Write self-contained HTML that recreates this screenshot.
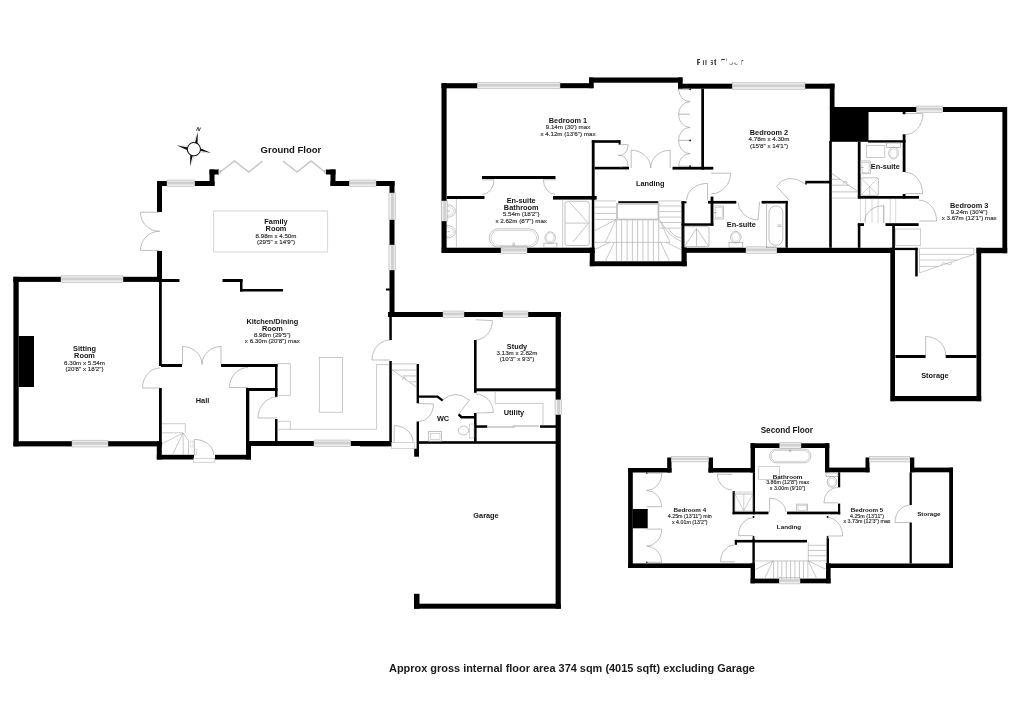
<!DOCTYPE html><html><head><meta charset="utf-8"><title>Floor plan</title><style>html,body{margin:0;padding:0;background:#fff;overflow:hidden;}svg{display:block;filter:grayscale(1);}text{font-family:"Liberation Sans",sans-serif;}</style></head><body><svg width="1024" height="713" viewBox="0 0 1024 713"><rect width="1024" height="713" fill="#fff"/>
<rect x="13.40" y="276.80" width="5.30" height="169.50" fill="#000"/>
<rect x="13.40" y="276.80" width="47.60" height="5.10" fill="#000"/>
<rect x="123.00" y="276.80" width="39.00" height="5.10" fill="#000"/>
<rect x="61.00" y="275.80" width="62.00" height="6.70" fill="#e9e9e9" stroke="#b0b0b0" stroke-width="0.5" rx="0"/>
<rect x="61.30" y="277.60" width="61.40" height="2.70" fill="#cfcfcf"/>
<line x1="61.00" y1="281.00" x2="123.00" y2="281.00" stroke="#f4f4f4" stroke-width="0.6"/>
<rect x="13.40" y="441.20" width="58.60" height="5.20" fill="#000"/>
<rect x="108.00" y="441.20" width="54.00" height="5.20" fill="#000"/>
<rect x="72.00" y="440.20" width="36.00" height="6.80" fill="#e9e9e9" stroke="#b0b0b0" stroke-width="0.5" rx="0"/>
<rect x="72.30" y="442.00" width="35.40" height="2.80" fill="#cfcfcf"/>
<line x1="72.00" y1="445.50" x2="108.00" y2="445.50" stroke="#f4f4f4" stroke-width="0.6"/>
<rect x="18.70" y="336.00" width="15.30" height="51.00" fill="#000"/>
<rect x="159.00" y="282.00" width="2.80" height="84.00" fill="#000"/>
<rect x="159.00" y="388.00" width="2.80" height="53.00" fill="#000"/>
<rect x="157.00" y="181.00" width="5.00" height="31.00" fill="#000"/>
<rect x="157.00" y="251.00" width="5.00" height="31.00" fill="#000"/>
<rect x="157.00" y="181.00" width="10.00" height="5.00" fill="#000"/>
<rect x="194.50" y="181.00" width="20.00" height="5.00" fill="#000"/>
<rect x="167.00" y="180.00" width="27.50" height="6.60" fill="#e9e9e9" stroke="#b0b0b0" stroke-width="0.5" rx="0"/>
<rect x="167.30" y="181.80" width="26.90" height="2.60" fill="#cfcfcf"/>
<line x1="167.00" y1="185.10" x2="194.50" y2="185.10" stroke="#f4f4f4" stroke-width="0.6"/>
<rect x="209.50" y="169.50" width="5.00" height="16.50" fill="#000"/>
<rect x="209.50" y="169.50" width="9.50" height="5.00" fill="#000"/>
<path d="M219.5,172.5 L234.5,161 L248.8,172 L262.5,161" stroke="#c6c6c6" stroke-width="1.5" fill="none"/>
<path d="M283,161 L297,172 L311,161 L325.5,172.5" stroke="#c6c6c6" stroke-width="1.5" fill="none"/>
<rect x="218.60" y="170.60" width="1.60" height="3.00" fill="#ddd" stroke="#999" stroke-width="0.4" rx="0"/>
<rect x="324.80" y="170.60" width="1.60" height="3.00" fill="#ddd" stroke="#999" stroke-width="0.4" rx="0"/>
<rect x="326.00" y="169.50" width="9.50" height="5.00" fill="#000"/>
<rect x="330.50" y="169.50" width="5.00" height="16.50" fill="#000"/>
<rect x="330.50" y="181.00" width="19.00" height="5.00" fill="#000"/>
<rect x="376.00" y="181.00" width="18.50" height="5.00" fill="#000"/>
<rect x="349.50" y="180.00" width="26.50" height="6.60" fill="#e9e9e9" stroke="#b0b0b0" stroke-width="0.5" rx="0"/>
<rect x="349.80" y="181.80" width="25.90" height="2.60" fill="#cfcfcf"/>
<line x1="349.50" y1="185.10" x2="376.00" y2="185.10" stroke="#f4f4f4" stroke-width="0.6"/>
<rect x="389.50" y="181.00" width="5.00" height="12.00" fill="#000"/>
<rect x="389.50" y="219.50" width="5.00" height="25.50" fill="#000"/>
<rect x="389.50" y="270.00" width="5.00" height="47.00" fill="#000"/>
<rect x="388.90" y="193.00" width="6.60" height="26.50" fill="#e9e9e9" stroke="#b0b0b0" stroke-width="0.5" rx="0"/>
<rect x="391.10" y="193.30" width="2.60" height="25.90" fill="#cfcfcf"/>
<line x1="390.40" y1="193.00" x2="390.40" y2="219.50" stroke="#f4f4f4" stroke-width="0.6"/>
<rect x="388.90" y="245.00" width="6.60" height="25.00" fill="#e9e9e9" stroke="#b0b0b0" stroke-width="0.5" rx="0"/>
<rect x="391.10" y="245.30" width="2.60" height="24.40" fill="#cfcfcf"/>
<line x1="390.40" y1="245.00" x2="390.40" y2="270.00" stroke="#f4f4f4" stroke-width="0.6"/>
<rect x="386.00" y="288.50" width="4.00" height="2.00" fill="#000"/>
<path d="M159.60,212.20 L140.40,212.20 A19.20,19.10 0 0 0 159.60,231.30" stroke="#949494" stroke-width="0.6" fill="none"/>
<path d="M159.60,250.40 L140.40,250.40 A19.20,19.10 0 0 1 159.60,231.30" stroke="#949494" stroke-width="0.6" fill="none"/>
<rect x="213.6" y="211" width="113.9" height="41" fill="none" stroke="#dcdcdc" stroke-width="1.2"/>
<rect x="161.00" y="279.00" width="18.50" height="3.00" fill="#000"/>
<rect x="222.50" y="279.00" width="20.00" height="3.00" fill="#000"/>
<rect x="240.00" y="279.00" width="2.50" height="12.50" fill="#000"/>
<rect x="240.00" y="289.00" width="43.00" height="2.50" fill="#000"/>
<rect x="161.00" y="364.00" width="21.00" height="3.00" fill="#000"/>
<rect x="221.00" y="364.00" width="56.50" height="3.00" fill="#000"/>
<rect x="275.00" y="364.00" width="2.50" height="33.00" fill="#000"/>
<rect x="275.00" y="419.00" width="2.50" height="22.00" fill="#000"/>
<rect x="246.00" y="388.00" width="31.50" height="3.00" fill="#000"/>
<rect x="246.00" y="388.00" width="3.30" height="53.00" fill="#000"/>
<rect x="246.00" y="441.00" width="5.00" height="18.50" fill="#000"/>
<rect x="156.80" y="441.40" width="5.00" height="18.10" fill="#000"/>
<rect x="156.80" y="454.80" width="37.20" height="4.70" fill="#000"/>
<rect x="215.00" y="454.80" width="36.00" height="4.70" fill="#000"/>
<rect x="246.00" y="441.00" width="68.00" height="5.00" fill="#000"/>
<rect x="350.50" y="441.00" width="41.00" height="5.00" fill="#000"/>
<rect x="314.00" y="440.00" width="36.50" height="6.60" fill="#e9e9e9" stroke="#b0b0b0" stroke-width="0.5" rx="0"/>
<rect x="314.30" y="441.80" width="35.90" height="2.60" fill="#cfcfcf"/>
<line x1="314.00" y1="445.10" x2="350.50" y2="445.10" stroke="#f4f4f4" stroke-width="0.6"/>
<rect x="389.30" y="317.00" width="2.50" height="23.00" fill="#000"/>
<rect x="389.30" y="361.00" width="2.50" height="85.00" fill="#000"/>
<path d="M160.00,388.00 L142.50,388.00 A17.50,20.00 0 0 1 160.00,368.00" stroke="#949494" stroke-width="0.6" fill="none"/>
<path d="M182.50,364.50 L182.50,346.50 A19.50,18.00 0 0 1 202.00,364.50" stroke="#949494" stroke-width="0.6" fill="none"/>
<path d="M221.00,364.50 L221.00,346.50 A19.00,18.00 0 0 0 202.00,364.50" stroke="#949494" stroke-width="0.6" fill="none"/>
<path d="M248.00,387.50 L229.50,387.50 A18.50,20.00 0 0 1 248.00,367.50" stroke="#949494" stroke-width="0.6" fill="none"/>
<path d="M277.00,418.00 L258.00,418.00 A19.00,21.00 0 0 1 277.00,397.00" stroke="#949494" stroke-width="0.6" fill="none"/>
<path d="M390.00,360.00 L372.00,360.00 A18.00,20.00 0 0 1 390.00,340.00" stroke="#949494" stroke-width="0.6" fill="none"/>
<path d="M194.30,455.00 L194.30,439.40 A19.50,15.60 0 0 1 213.80,455.00" stroke="#949494" stroke-width="0.6" fill="none"/>
<rect x="193.60" y="458.20" width="21.20" height="4.00" fill="#fff" stroke="#aaa" stroke-width="0.5" rx="0"/>
<rect x="194.60" y="449.50" width="2.00" height="5.50" fill="none" stroke="#aaa" stroke-width="0.4" rx="0"/>
<rect x="190.50" y="441.00" width="2.50" height="6.00" fill="none" stroke="#bbb" stroke-width="0.4" rx="0"/>
<path d="M161.8,423.7 H185.3 V432.8 M161.8,432.8 H183 M183,433 L161.8,443.8 M183,433 L172.4,455 M183,433 L183.4,455 M183,433 L188.5,440.6 V455" stroke="#a8a8a8" stroke-width="0.6" fill="none"/>
<path d="M277.5,363.6 H290.3 V395.4 H277.5" stroke="#bcbcbc" stroke-width="0.8" fill="none"/>
<rect x="319.30" y="357.40" width="23.30" height="54.80" fill="none" stroke="#bcbcbc" stroke-width="0.8" rx="0"/>
<path d="M277.5,421.3 H290.3 V429.3 M277.5,429.3 H376.6 V364.6 H389.2" stroke="#bcbcbc" stroke-width="0.8" fill="none"/>
<rect x="388.00" y="312.00" width="6.00" height="5.00" fill="#000"/>
<rect x="388.00" y="312.00" width="55.00" height="5.00" fill="#000"/>
<rect x="464.00" y="312.00" width="39.00" height="5.00" fill="#000"/>
<rect x="528.00" y="312.00" width="33.00" height="5.00" fill="#000"/>
<rect x="443.00" y="311.00" width="21.00" height="6.60" fill="#e9e9e9" stroke="#b0b0b0" stroke-width="0.5" rx="0"/>
<rect x="443.30" y="312.80" width="20.40" height="2.60" fill="#cfcfcf"/>
<line x1="443.00" y1="316.10" x2="464.00" y2="316.10" stroke="#f4f4f4" stroke-width="0.6"/>
<rect x="503.00" y="311.00" width="25.00" height="6.60" fill="#e9e9e9" stroke="#b0b0b0" stroke-width="0.5" rx="0"/>
<rect x="503.30" y="312.80" width="24.40" height="2.60" fill="#cfcfcf"/>
<line x1="503.00" y1="316.10" x2="528.00" y2="316.10" stroke="#f4f4f4" stroke-width="0.6"/>
<rect x="555.60" y="312.00" width="5.20" height="87.90" fill="#000"/>
<rect x="555.60" y="414.40" width="5.20" height="194.30" fill="#000"/>
<rect x="555.00" y="399.90" width="6.80" height="14.50" fill="#e9e9e9" stroke="#b0b0b0" stroke-width="0.5" rx="0"/>
<rect x="557.20" y="400.20" width="2.80" height="13.90" fill="#cfcfcf"/>
<line x1="556.50" y1="399.90" x2="556.50" y2="414.40" stroke="#f4f4f4" stroke-width="0.6"/>
<rect x="474.00" y="340.00" width="2.60" height="52.80" fill="#000"/>
<rect x="474.00" y="413.00" width="2.60" height="30.00" fill="#000"/>
<rect x="474.00" y="388.30" width="82.00" height="3.00" fill="#000"/>
<rect x="476.00" y="425.30" width="11.30" height="2.50" fill="#000"/>
<rect x="540.00" y="425.30" width="16.00" height="2.50" fill="#000"/>
<path d="M487.7,427 H515 M512.4,426 H539.3" stroke="#c4c4c4" stroke-width="1.3" fill="none"/>
<rect x="419.00" y="441.20" width="137.00" height="2.60" fill="#000"/>
<rect x="416.60" y="364.00" width="2.40" height="39.30" fill="#000"/>
<rect x="416.60" y="421.50" width="2.40" height="27.50" fill="#000"/>
<rect x="414.20" y="448.70" width="4.80" height="8.00" fill="#000"/>
<path d="M419,396.6 H437.4 L442.8,400.6" stroke="#000" stroke-width="2.4" fill="none"/>
<path d="M458.6,414.3 L461.5,417.2 H474" stroke="#000" stroke-width="2.4" fill="none"/>
<rect x="360.00" y="441.50" width="31.60" height="4.90" fill="#000"/>
<path d="M475.60,319.80 L492.50,320.60 A16.90,20.20 0 0 1 475.60,340.00" stroke="#949494" stroke-width="0.6" fill="none"/>
<path d="M419.00,403.50 L433.50,404.00 A14.50,18.00 0 0 1 419.00,421.50" stroke="#949494" stroke-width="0.6" fill="none"/>
<path d="M442.5,400 Q455,389 469.5,400 L458.6,414" stroke="#949494" stroke-width="0.6" fill="none"/>
<path d="M475.60,413.00 L493.40,412.50 A17.80,19.00 0 0 0 475.60,394.00" stroke="#949494" stroke-width="0.6" fill="none"/>
<path d="M394.20,442.50 L394.20,425.60 A19.00,16.90 0 0 1 413.20,442.50" stroke="#949494" stroke-width="0.6" fill="none"/>
<rect x="391.60" y="442.70" width="22.60" height="5.80" fill="#fff" stroke="#aaa" stroke-width="0.5" rx="0"/>
<path d="M391.8,363.9 H416.6 M391.8,370.1 H416.6 M391.8,369.6 L416.6,387.2 M402.5,375.9 H416.6 M410,381.8 H416.6 M402.3,379.8 L403.8,377 L406.6,379" stroke="#b4b4b4" stroke-width="0.8" fill="none"/>
<path d="M495.2,391.3 V403.4 H543 V425.3" stroke="#bcbcbc" stroke-width="0.8" fill="none"/>
<rect x="428.60" y="431.70" width="13.10" height="9.50" fill="none" stroke="#999" stroke-width="0.6" rx="0"/>
<rect x="430.30" y="433.30" width="9.70" height="6.20" fill="none" stroke="#aaa" stroke-width="0.5" rx="0"/>
<ellipse cx="463.50" cy="430.50" rx="5.20" ry="4.40" fill="none" stroke="#999" stroke-width="0.6"/>
<rect x="469.50" y="424.00" width="4.50" height="14.00" fill="none" stroke="#aaa" stroke-width="0.5" rx="0"/>
<rect x="414.00" y="593.80" width="5.50" height="14.90" fill="#000"/>
<rect x="414.00" y="603.70" width="146.80" height="5.00" fill="#000"/>
<rect x="441.50" y="83.20" width="5.10" height="169.80" fill="#000"/>
<rect x="441.50" y="83.20" width="36.00" height="5.10" fill="#000"/>
<rect x="560.00" y="83.20" width="33.50" height="5.00" fill="#000"/>
<rect x="477.50" y="82.20" width="82.50" height="6.60" fill="#e9e9e9" stroke="#b0b0b0" stroke-width="0.5" rx="0"/>
<rect x="477.80" y="84.00" width="81.90" height="2.60" fill="#cfcfcf"/>
<line x1="477.50" y1="87.30" x2="560.00" y2="87.30" stroke="#f4f4f4" stroke-width="0.6"/>
<rect x="589.00" y="77.50" width="4.50" height="10.70" fill="#000"/>
<rect x="589.00" y="77.50" width="93.50" height="5.20" fill="#000"/>
<rect x="678.00" y="77.50" width="4.50" height="11.20" fill="#000"/>
<rect x="678.00" y="83.70" width="54.50" height="5.00" fill="#000"/>
<rect x="805.00" y="83.70" width="29.50" height="5.00" fill="#000"/>
<rect x="732.50" y="82.70" width="72.50" height="6.60" fill="#e9e9e9" stroke="#b0b0b0" stroke-width="0.5" rx="0"/>
<rect x="732.80" y="84.50" width="71.90" height="2.60" fill="#cfcfcf"/>
<line x1="732.50" y1="87.80" x2="805.00" y2="87.80" stroke="#f4f4f4" stroke-width="0.6"/>
<rect x="829.80" y="83.70" width="4.70" height="24.30" fill="#000"/>
<rect x="829.80" y="107.00" width="38.70" height="34.80" fill="#000"/>
<rect x="834.00" y="107.00" width="82.60" height="5.00" fill="#000"/>
<rect x="942.70" y="107.00" width="64.30" height="5.00" fill="#000"/>
<rect x="916.60" y="106.00" width="26.10" height="6.60" fill="#e9e9e9" stroke="#b0b0b0" stroke-width="0.5" rx="0"/>
<rect x="916.90" y="107.80" width="25.50" height="2.60" fill="#cfcfcf"/>
<line x1="916.60" y1="111.10" x2="942.70" y2="111.10" stroke="#f4f4f4" stroke-width="0.6"/>
<rect x="1002.40" y="107.00" width="4.80" height="146.20" fill="#000"/>
<rect x="976.50" y="247.80" width="30.70" height="5.40" fill="#000"/>
<rect x="441.80" y="247.70" width="59.20" height="5.30" fill="#000"/>
<rect x="527.00" y="247.70" width="67.60" height="5.30" fill="#000"/>
<rect x="501.00" y="246.70" width="26.00" height="6.90" fill="#e9e9e9" stroke="#b0b0b0" stroke-width="0.5" rx="0"/>
<rect x="501.30" y="248.50" width="25.40" height="2.90" fill="#cfcfcf"/>
<line x1="501.00" y1="252.10" x2="527.00" y2="252.10" stroke="#f4f4f4" stroke-width="0.6"/>
<rect x="441.20" y="201.00" width="6.60" height="20.00" fill="#e9e9e9" stroke="#b0b0b0" stroke-width="0.5" rx="0"/>
<rect x="443.40" y="201.30" width="2.60" height="19.40" fill="#cfcfcf"/>
<line x1="442.70" y1="201.00" x2="442.70" y2="221.00" stroke="#f4f4f4" stroke-width="0.6"/>
<rect x="589.80" y="247.70" width="4.80" height="18.50" fill="#000"/>
<rect x="589.80" y="261.30" width="96.90" height="4.90" fill="#000"/>
<rect x="681.50" y="201.30" width="3.00" height="46.70" fill="#000"/>
<rect x="681.50" y="247.50" width="5.20" height="18.70" fill="#000"/>
<rect x="681.50" y="201.30" width="5.00" height="2.00" fill="#000"/>
<rect x="684.00" y="247.80" width="62.00" height="5.00" fill="#000"/>
<rect x="776.60" y="247.80" width="118.40" height="5.20" fill="#000"/>
<rect x="746.00" y="246.80" width="30.60" height="6.60" fill="#e9e9e9" stroke="#b0b0b0" stroke-width="0.5" rx="0"/>
<rect x="746.30" y="248.60" width="30.00" height="2.60" fill="#cfcfcf"/>
<line x1="746.00" y1="251.90" x2="776.60" y2="251.90" stroke="#f4f4f4" stroke-width="0.6"/>
<rect x="482.00" y="176.00" width="73.50" height="3.00" fill="#000"/>
<rect x="446.80" y="196.00" width="37.70" height="3.00" fill="#000"/>
<rect x="553.00" y="196.00" width="43.70" height="3.60" fill="#000"/>
<rect x="591.80" y="140.20" width="2.80" height="59.80" fill="#000"/>
<rect x="591.80" y="140.20" width="28.40" height="2.60" fill="#000"/>
<rect x="618.60" y="140.20" width="2.00" height="4.40" fill="#000"/>
<rect x="594.60" y="166.80" width="34.40" height="2.60" fill="#000"/>
<rect x="672.50" y="166.80" width="40.80" height="2.80" fill="#000"/>
<rect x="618.30" y="201.20" width="40.00" height="2.60" fill="#000"/>
<rect x="701.30" y="88.70" width="2.70" height="80.90" fill="#000"/>
<rect x="710.60" y="196.60" width="2.80" height="29.00" fill="#000"/>
<rect x="708.00" y="200.90" width="28.30" height="2.70" fill="#000"/>
<rect x="761.60" y="200.90" width="26.20" height="2.70" fill="#000"/>
<rect x="785.30" y="200.90" width="2.50" height="46.90" fill="#000"/>
<rect x="681.50" y="223.30" width="31.90" height="2.50" fill="#000"/>
<rect x="805.30" y="180.80" width="24.70" height="2.60" fill="#000"/>
<rect x="805.30" y="183.00" width="1.30" height="1.60" fill="#000"/>
<rect x="829.20" y="141.00" width="2.60" height="106.80" fill="#000"/>
<rect x="857.80" y="141.60" width="2.80" height="56.80" fill="#000"/>
<rect x="868.00" y="140.20" width="37.50" height="2.40" fill="#000"/>
<rect x="902.70" y="112.00" width="2.80" height="2.20" fill="#000"/>
<rect x="902.70" y="134.30" width="2.80" height="37.70" fill="#000"/>
<rect x="902.70" y="194.00" width="2.80" height="4.60" fill="#000"/>
<rect x="857.80" y="196.00" width="61.20" height="2.70" fill="#000"/>
<rect x="857.80" y="223.60" width="2.60" height="24.20" fill="#000"/>
<rect x="857.80" y="223.20" width="6.20" height="2.80" fill="#000"/>
<rect x="885.50" y="223.20" width="33.10" height="2.80" fill="#000"/>
<rect x="892.20" y="225.50" width="2.70" height="22.50" fill="#000"/>
<rect x="890.30" y="247.80" width="4.70" height="153.40" fill="#000"/>
<rect x="976.50" y="247.80" width="4.70" height="153.40" fill="#000"/>
<rect x="890.80" y="396.00" width="90.40" height="5.20" fill="#000"/>
<rect x="895.40" y="355.00" width="30.20" height="3.00" fill="#000"/>
<rect x="945.70" y="355.00" width="30.80" height="3.00" fill="#000"/>
<rect x="915.20" y="247.80" width="2.50" height="28.60" fill="#000"/>
<path d="M925.60,355.00 L925.60,336.50 A20.10,18.50 0 0 1 945.70,355.00" stroke="#949494" stroke-width="0.6" fill="none"/>
<rect x="895.40" y="229.00" width="25.20" height="16.50" fill="none" stroke="#c4c4c4" stroke-width="0.8" rx="0"/>
<path d="M482.00,179.80 L494.00,179.80 A12.00,14.60 0 0 1 482.20,194.40" stroke="#949494" stroke-width="0.6" fill="none"/>
<path d="M555.60,179.80 L543.40,179.80 A12.20,14.60 0 0 0 555.30,194.40" stroke="#949494" stroke-width="0.6" fill="none"/>
<path d="M619.60,144.20 L628.20,144.80 A8.60,11.20 0 0 1 618.20,155.40" stroke="#949494" stroke-width="0.6" fill="none"/>
<path d="M619.60,167.00 L628.20,166.40 A8.60,11.60 0 0 0 618.20,155.40" stroke="#949494" stroke-width="0.6" fill="none"/>
<path d="M631.20,168.00 L631.20,150.20 A19.50,17.80 0 0 1 650.70,168.00" stroke="#949494" stroke-width="0.6" fill="none"/>
<path d="M670.20,168.00 L670.20,150.20 A19.50,17.80 0 0 0 650.70,168.00" stroke="#949494" stroke-width="0.6" fill="none"/>
<line x1="678.60" y1="89.30" x2="690.10" y2="89.30" stroke="#b8b8b8" stroke-width="1.0"/>
<line x1="678.60" y1="114.20" x2="690.10" y2="114.20" stroke="#b8b8b8" stroke-width="1.0"/>
<line x1="678.60" y1="140.40" x2="690.10" y2="140.40" stroke="#b8b8b8" stroke-width="1.0"/>
<line x1="678.60" y1="166.20" x2="690.10" y2="166.20" stroke="#b8b8b8" stroke-width="1.0"/>
<path d="M678.6,89.3 A11.6,12.6 0 0 0 690.1,101.7" stroke="#949494" stroke-width="0.6" fill="none"/>
<path d="M678.6,114.2 A11.6,12.6 0 0 1 690.1,101.7" stroke="#949494" stroke-width="0.6" fill="none"/>
<path d="M678.6,114.2 A11.6,12.6 0 0 0 690.1,127.4" stroke="#949494" stroke-width="0.6" fill="none"/>
<path d="M678.6,140.4 A11.6,12.6 0 0 1 690.1,127.4" stroke="#949494" stroke-width="0.6" fill="none"/>
<path d="M678.6,140.4 A11.6,12.6 0 0 0 690.1,153.6" stroke="#949494" stroke-width="0.6" fill="none"/>
<path d="M678.6,166.2 A11.6,12.6 0 0 1 690.1,153.6" stroke="#949494" stroke-width="0.6" fill="none"/>
<circle cx="690.1" cy="89.3" r="0.9" fill="#111"/>
<circle cx="690.1" cy="140.4" r="0.9" fill="#111"/>
<circle cx="690.1" cy="166.2" r="0.9" fill="#111"/>
<path d="M711.00,173.20 L730.60,173.20 A19.60,20.60 0 0 1 711.30,193.80" stroke="#949494" stroke-width="0.6" fill="none"/>
<path d="M707.60,200.40 L707.40,183.40 A21.00,17.00 0 0 0 686.60,200.30" stroke="#949494" stroke-width="0.6" fill="none"/>
<path d="M759.50,202.00 L758.00,220.00 A21.50,18.00 0 0 1 738.00,202.30" stroke="#949494" stroke-width="0.6" fill="none"/>
<path d="M789.5,200.6 L776.5,186.2 Q787,172 805,183.5" stroke="#949494" stroke-width="0.6" fill="none"/>
<path d="M905.50,113.60 L922.90,113.60 A17.40,21.00 0 0 1 905.20,134.60" stroke="#949494" stroke-width="0.6" fill="none"/>
<path d="M905.50,193.60 L922.60,193.60 A17.10,21.20 0 0 0 905.20,172.40" stroke="#949494" stroke-width="0.6" fill="none"/>
<path d="M919.20,221.00 L936.60,221.00 A17.40,20.80 0 0 0 919.20,200.20" stroke="#949494" stroke-width="0.6" fill="none"/>
<line x1="456.40" y1="199.00" x2="456.40" y2="247.70" stroke="#a8a8a8" stroke-width="0.6"/>
<path d="M447,204.7 A8.4,6.3 0 0 1 447,217.3" stroke="#999" stroke-width="0.6" fill="none"/>
<path d="M447,206.4 A6.4,4.6 0 0 1 447,215.6" stroke="#b5b5b5" stroke-width="0.5" fill="none"/>
<line x1="447.50" y1="211.00" x2="450.00" y2="211.00" stroke="#888" stroke-width="0.6"/>
<path d="M447,225.39999999999998 A8.4,6.3 0 0 1 447,238.0" stroke="#999" stroke-width="0.6" fill="none"/>
<path d="M447,227.1 A6.4,4.6 0 0 1 447,236.29999999999998" stroke="#b5b5b5" stroke-width="0.5" fill="none"/>
<line x1="447.50" y1="231.70" x2="450.00" y2="231.70" stroke="#888" stroke-width="0.6"/>
<rect x="489.20" y="228.80" width="49.20" height="18.20" fill="none" stroke="#999" stroke-width="0.6" rx="9"/>
<rect x="491.00" y="230.40" width="45.60" height="15.00" fill="none" stroke="#aaa" stroke-width="0.5" rx="7.5"/>
<line x1="513.00" y1="242.50" x2="513.00" y2="246.00" stroke="#888" stroke-width="0.5"/>
<line x1="514.30" y1="242.50" x2="514.30" y2="246.00" stroke="#888" stroke-width="0.5"/>
<rect x="543.90" y="243.10" width="13.00" height="4.40" fill="none" stroke="#999" stroke-width="0.6" rx="0"/>
<ellipse cx="550.20" cy="237.60" rx="5.20" ry="5.80" fill="none" stroke="#999" stroke-width="0.6"/>
<ellipse cx="550.20" cy="237.20" rx="3.90" ry="4.40" fill="none" stroke="#b5b5b5" stroke-width="0.5"/>
<line x1="562.70" y1="199.50" x2="562.70" y2="247.50" stroke="#a8a8a8" stroke-width="0.6"/>
<rect x="565.00" y="201.30" width="24.20" height="44.20" fill="none" stroke="#999" stroke-width="0.6" rx="2.5"/>
<path d="M565,223.1 H589.2 M569.7,202.5 L587.7,222.4 M587.7,223.8 L572.8,242.3" stroke="#a0a0a0" stroke-width="0.6" fill="none"/>
<rect x="713.80" y="206.00" width="9.70" height="13.00" fill="none" stroke="#999" stroke-width="0.6" rx="0"/>
<rect x="715.20" y="207.40" width="7.00" height="10.10" fill="none" stroke="#b0b0b0" stroke-width="0.5" rx="0"/>
<line x1="714.00" y1="212.50" x2="716.50" y2="212.50" stroke="#888" stroke-width="0.6"/>
<rect x="684.30" y="226.60" width="24.70" height="20.00" fill="none" stroke="#999" stroke-width="0.6" rx="1.5"/>
<path d="M684.5,246.4 L696.5,228.5 L708.8,246.4 M696.5,228.5 V246.4" stroke="#a0a0a0" stroke-width="0.6" fill="none"/>
<rect x="729.00" y="242.50" width="13.80" height="5.20" fill="none" stroke="#999" stroke-width="0.6" rx="0"/>
<ellipse cx="735.80" cy="237.20" rx="5.20" ry="5.80" fill="none" stroke="#999" stroke-width="0.6"/>
<ellipse cx="735.80" cy="236.80" rx="3.90" ry="4.40" fill="none" stroke="#b5b5b5" stroke-width="0.5"/>
<rect x="766.30" y="203.60" width="19.00" height="44.10" fill="none" stroke="#999" stroke-width="0.6" rx="0"/>
<rect x="769.00" y="206.00" width="13.80" height="39.30" fill="none" stroke="#999" stroke-width="0.6" rx="6.5"/>
<line x1="777.50" y1="225.00" x2="781.50" y2="225.00" stroke="#888" stroke-width="0.5"/>
<line x1="777.50" y1="226.40" x2="781.50" y2="226.40" stroke="#888" stroke-width="0.5"/>
<rect x="866.50" y="145.50" width="18.30" height="11.90" fill="none" stroke="#aaa" stroke-width="0.6" rx="0"/>
<rect x="886.60" y="143.00" width="13.70" height="4.30" fill="none" stroke="#999" stroke-width="0.6" rx="0"/>
<ellipse cx="893.50" cy="153.00" rx="4.80" ry="6.00" fill="none" stroke="#999" stroke-width="0.6"/>
<ellipse cx="893.50" cy="153.40" rx="3.50" ry="4.50" fill="none" stroke="#b5b5b5" stroke-width="0.5"/>
<rect x="860.60" y="161.00" width="9.60" height="12.80" fill="none" stroke="#999" stroke-width="0.6" rx="0"/>
<rect x="862.00" y="162.40" width="7.00" height="10.00" fill="none" stroke="#b0b0b0" stroke-width="0.5" rx="0"/>
<line x1="861.00" y1="167.40" x2="863.60" y2="167.40" stroke="#888" stroke-width="0.6"/>
<rect x="861.00" y="177.80" width="17.40" height="17.50" fill="none" stroke="#999" stroke-width="0.6" rx="1.2"/>
<path d="M861.2,178 L869.7,186.5 L878.2,178 M869.7,186.5 V195 M861.2,195 L869.7,186.5 L878.2,195" stroke="#a0a0a0" stroke-width="0.5" fill="none"/>
<rect x="591.80" y="199.00" width="2.50" height="62.50" fill="#000"/>
<path d="M616.4,220 V261.4 M621.6,220 V261.4 M627.1,220 V261.4 M632.4,220 V261.4 M637.6,220 V261.4 M642.9,220 V261.4 M648.1,220 V261.4 M653.4,220 V261.4 M658.7,220 V261.4 M594.3,242.3 H670 M594.3,200.9 H616 M594.3,207.1 H616 M594.3,213.4 H616 M594.3,219.4 H616 M659.5,200.9 H681.4 M659.5,206 H681.4 M659.5,211.6 H681.4 M659.5,217.1 H681.4 M659.5,222.5 H681.4 M659.5,228.1 H681.4 M616,219.7 L594.3,230.8 M616,219.7 L605.4,242.3 M610,242.3 L594.3,249.7 M614.3,242.3 L605.4,261.3 M659.5,219.7 L670,242.3 M660.6,242.3 L669.5,261.3 M666.3,242.3 L681.2,249.7 M661.6,222.3 Q668,236 681.2,241.3 M668.5,228.1 Q672,236 681.2,238" stroke="#a3a3a3" stroke-width="0.6" fill="none"/>
<rect x="617.00" y="203.80" width="41.50" height="15.70" fill="none" stroke="#c2c2c2" stroke-width="1.8" rx="0"/>
<path d="M831.8,191.9 H858 M831.8,173.4 L858,191.6 M831.8,179.3 H840.3 M831.8,185.2 H848.8 M843.3,183.8 L845,181 L847.6,182.6" stroke="#b0b0b0" stroke-width="0.8" fill="none"/>
<line x1="831.80" y1="198.10" x2="858.00" y2="198.10" stroke="#c8c8c8" stroke-width="0.9"/>
<path d="M865.6,199 V223.2 M872,199 V223.2 M878,199 V223.2 M890.2,199 V223.2 M895.7,199 V223.2" stroke="#b5b5b5" stroke-width="0.55" fill="none"/>
<line x1="883.80" y1="205.70" x2="883.80" y2="223.20" stroke="#8a8a8a" stroke-width="0.8"/>
<path d="M864.7,221.4 A19.1,15.7 0 0 1 883.8,205.7" stroke="#999" stroke-width="0.6" fill="none"/>
<line x1="860.40" y1="199.00" x2="860.40" y2="223.20" stroke="#b5b5b5" stroke-width="0.5"/>
<path d="M919.5,248.3 H973.9 V254.4 L919.5,272.8 Z M919.5,254.4 H973.9 M919.5,260 H957.3 M919.5,266.4 H938.4 M941,265.5 L943,262.5 L950.5,265 L952,262" stroke="#a3a3a3" stroke-width="0.55" fill="none"/>
<rect x="894.90" y="247.80" width="22.80" height="2.30" fill="#000"/>
<rect x="628.10" y="468.00" width="4.70" height="100.00" fill="#000"/>
<rect x="628.10" y="468.00" width="43.40" height="4.50" fill="#000"/>
<rect x="667.20" y="457.50" width="4.30" height="15.00" fill="#000"/>
<rect x="708.50" y="457.50" width="4.50" height="15.00" fill="#000"/>
<rect x="708.50" y="468.00" width="46.50" height="4.50" fill="#000"/>
<rect x="671.50" y="456.30" width="37.00" height="5.60" fill="#e9e9e9" stroke="#b0b0b0" stroke-width="0.5" rx="0"/>
<rect x="671.80" y="458.10" width="36.40" height="1.60" fill="#cfcfcf"/>
<line x1="671.50" y1="460.40" x2="708.50" y2="460.40" stroke="#f4f4f4" stroke-width="0.6"/>
<rect x="750.60" y="443.30" width="4.40" height="29.20" fill="#000"/>
<rect x="750.60" y="443.30" width="29.20" height="4.70" fill="#000"/>
<rect x="801.00" y="443.30" width="28.30" height="4.70" fill="#000"/>
<rect x="779.80" y="442.30" width="21.20" height="6.30" fill="#e9e9e9" stroke="#b0b0b0" stroke-width="0.5" rx="0"/>
<rect x="780.10" y="444.10" width="20.60" height="2.30" fill="#cfcfcf"/>
<line x1="779.80" y1="447.10" x2="801.00" y2="447.10" stroke="#f4f4f4" stroke-width="0.6"/>
<rect x="825.00" y="443.30" width="4.30" height="29.00" fill="#000"/>
<rect x="825.00" y="467.60" width="44.50" height="4.70" fill="#000"/>
<rect x="865.50" y="457.50" width="4.00" height="14.80" fill="#000"/>
<rect x="869.50" y="456.30" width="40.50" height="5.60" fill="#e9e9e9" stroke="#b0b0b0" stroke-width="0.5" rx="0"/>
<rect x="869.80" y="458.10" width="39.90" height="1.60" fill="#cfcfcf"/>
<line x1="869.50" y1="460.40" x2="910.00" y2="460.40" stroke="#f4f4f4" stroke-width="0.6"/>
<rect x="910.00" y="457.50" width="4.30" height="14.80" fill="#000"/>
<rect x="910.00" y="467.60" width="43.00" height="4.70" fill="#000"/>
<rect x="949.20" y="467.60" width="3.80" height="100.40" fill="#000"/>
<rect x="628.10" y="563.40" width="126.90" height="4.60" fill="#000"/>
<rect x="750.60" y="563.30" width="4.40" height="20.00" fill="#000"/>
<rect x="750.60" y="578.60" width="28.70" height="4.70" fill="#000"/>
<rect x="800.00" y="578.60" width="30.60" height="4.70" fill="#000"/>
<rect x="779.30" y="577.60" width="20.70" height="6.30" fill="#e9e9e9" stroke="#b0b0b0" stroke-width="0.5" rx="0"/>
<rect x="779.60" y="579.40" width="20.10" height="2.30" fill="#cfcfcf"/>
<line x1="779.30" y1="582.40" x2="800.00" y2="582.40" stroke="#f4f4f4" stroke-width="0.6"/>
<rect x="826.00" y="563.30" width="4.60" height="20.00" fill="#000"/>
<rect x="826.00" y="563.50" width="127.00" height="4.50" fill="#000"/>
<rect x="632.70" y="509.00" width="15.00" height="19.30" fill="#000"/>
<rect x="752.80" y="472.50" width="2.20" height="41.80" fill="#000"/>
<rect x="732.60" y="491.00" width="2.20" height="23.30" fill="#000"/>
<rect x="732.60" y="511.60" width="35.90" height="2.70" fill="#000"/>
<rect x="787.00" y="511.60" width="53.20" height="2.70" fill="#000"/>
<rect x="838.00" y="472.30" width="2.20" height="15.00" fill="#000"/>
<rect x="838.00" y="503.60" width="2.20" height="10.70" fill="#000"/>
<rect x="734.80" y="539.90" width="72.20" height="2.60" fill="#000"/>
<rect x="734.80" y="539.90" width="2.20" height="4.90" fill="#000"/>
<rect x="752.40" y="538.20" width="2.40" height="25.30" fill="#000"/>
<rect x="826.60" y="538.20" width="2.40" height="25.30" fill="#000"/>
<rect x="752.70" y="516.00" width="1.60" height="2.00" fill="#000"/>
<rect x="752.70" y="536.00" width="1.60" height="2.00" fill="#000"/>
<rect x="826.80" y="516.00" width="1.60" height="2.00" fill="#000"/>
<rect x="826.80" y="536.00" width="1.60" height="2.00" fill="#000"/>
<rect x="909.60" y="472.30" width="2.20" height="32.70" fill="#000"/>
<rect x="909.60" y="522.50" width="2.20" height="41.00" fill="#000"/>
<path d="M732.30,474.30 L717.30,474.30 A15.00,15.70 0 0 0 732.30,490.00" stroke="#949494" stroke-width="0.6" fill="none"/>
<path d="M753.30,535.60 L738.50,535.60 A14.80,18.00 0 0 1 753.30,517.60" stroke="#949494" stroke-width="0.6" fill="none"/>
<path d="M734.80,561.80 L720.50,561.80 A14.30,17.00 0 0 1 734.80,544.80" stroke="#949494" stroke-width="0.6" fill="none"/>
<path d="M769.60,512.40 L769.60,498.00 A16.40,14.40 0 0 1 786.00,512.40" stroke="#949494" stroke-width="0.6" fill="none"/>
<path d="M838.00,502.80 L823.90,502.80 A14.10,15.50 0 0 1 838.00,487.30" stroke="#949494" stroke-width="0.6" fill="none"/>
<path d="M827.40,536.00 L842.60,536.00 A15.20,18.40 0 0 0 827.40,517.60" stroke="#949494" stroke-width="0.6" fill="none"/>
<path d="M909.80,522.50 L895.00,522.50 A14.80,17.50 0 0 1 909.80,505.00" stroke="#949494" stroke-width="0.6" fill="none"/>
<path d="M646.6,473.1 H661.7 A15.1,17.4 0 0 1 646.6,490.5" stroke="#949494" stroke-width="0.6" fill="none"/>
<path d="M646.6,506.7 H661.7 A15.1,16.2 0 0 0 646.6,490.5" stroke="#949494" stroke-width="0.6" fill="none"/>
<path d="M646.6,529.1 H661.7 A15.1,17.0 0 0 1 646.6,546.1" stroke="#949494" stroke-width="0.6" fill="none"/>
<path d="M646.6,562.3 H661.7 A15.1,16.2 0 0 0 646.6,546.1" stroke="#949494" stroke-width="0.6" fill="none"/>
<circle cx="646.8" cy="473.1" r="0.8" fill="#222"/>
<circle cx="646.8" cy="562.3" r="0.8" fill="#222"/>
<rect x="769.60" y="449.10" width="41.30" height="13.70" fill="none" stroke="#999" stroke-width="0.6" rx="6.8"/>
<rect x="771.20" y="450.50" width="38.10" height="10.90" fill="none" stroke="#aaa" stroke-width="0.5" rx="5.4"/>
<line x1="789.50" y1="449.50" x2="789.50" y2="452.00" stroke="#888" stroke-width="0.5"/>
<line x1="790.80" y1="449.50" x2="790.80" y2="452.00" stroke="#888" stroke-width="0.5"/>
<rect x="758.70" y="466.50" width="20.60" height="13.10" fill="none" stroke="#b5b5b5" stroke-width="0.6" rx="0"/>
<rect x="826.00" y="473.00" width="12.00" height="3.70" fill="none" stroke="#999" stroke-width="0.6" rx="0"/>
<ellipse cx="832.00" cy="481.90" rx="4.80" ry="5.30" fill="none" stroke="#999" stroke-width="0.6"/>
<ellipse cx="832.00" cy="482.20" rx="3.50" ry="4.00" fill="none" stroke="#b5b5b5" stroke-width="0.5"/>
<rect x="796.70" y="504.10" width="10.90" height="7.40" fill="none" stroke="#999" stroke-width="0.6" rx="0"/>
<rect x="798.00" y="505.30" width="8.30" height="5.00" fill="none" stroke="#b0b0b0" stroke-width="0.5" rx="0"/>
<line x1="732.60" y1="492.00" x2="752.80" y2="492.00" stroke="#aaa" stroke-width="0.5"/>
<rect x="734.80" y="494.00" width="18.00" height="17.20" fill="none" stroke="#999" stroke-width="0.6" rx="1.2"/>
<path d="M735,494.2 L743.8,510.8 L752.6,494.2 M743.8,494.2 V510.8" stroke="#a0a0a0" stroke-width="0.5" fill="none"/>
<path d="M773.6,560.9 V579 M777.8,560.9 V579 M781.8,560.9 V579 M786.3,560.9 V579 M790.6,560.9 V579 M794.9,560.9 V579 M799.4,560.9 V579 M803.6,560.9 V579 M807.9,560.9 V579 M754.7,560.9 H808.3 M808.3,545.3 H826.6 M808.3,550.5 H826.6 M808.3,555.7 H826.6 M808.3,560.9 H826.6 M808.3,542.4 V560.9 M772.9,560.9 L755.3,569.6 M772.9,560.9 L764.3,579 M808.3,560.9 L826.6,569.6 M808.3,560.9 L816.9,579" stroke="#a3a3a3" stroke-width="0.6" fill="none"/>
<text x="290.90" y="152.82" font-size="9.5" text-anchor="middle" fill="#151515" font-weight="bold">Ground Floor</text>
<text x="786.80" y="432.65" font-size="8.2" text-anchor="middle" fill="#151515" font-weight="bold">Second Floor</text>
<clipPath id="cf"><rect x="696.3" y="57.5" width="3.8" height="8.5"/><rect x="702.4" y="60.3" width="1.5" height="5.5"/><rect x="705" y="60" width="1.6" height="5.5"/><rect x="710.8" y="60" width="2.2" height="5.5"/><rect x="714" y="59.3" width="2.4" height="6.3"/><rect x="721.3" y="57.3" width="5.2" height="4"/><rect x="741.5" y="60" width="4" height="5.6"/></clipPath><clipPath id="cf2"><rect x="729.5" y="62.6" width="8" height="3"/></clipPath><text x="696.4" y="65.2" font-size="9.5" font-weight="bold" fill="#3a3a3a" clip-path="url(#cf)">First Floor</text><text x="696.4" y="65.2" font-size="9.5" font-weight="bold" fill="#8a8a8a" clip-path="url(#cf2)">First Floor</text>
<text x="84.50" y="351.15" font-size="7.35" text-anchor="middle" fill="#151515" font-weight="bold">Sitting</text>
<text x="84.50" y="358.15" font-size="7.35" text-anchor="middle" fill="#151515" font-weight="bold">Room</text>
<text x="84.50" y="364.73" font-size="6.2" text-anchor="middle" fill="#2c2c2c" stroke="#2c2c2c" stroke-width="0.15">6.30m x 5.54m</text>
<text x="84.50" y="370.93" font-size="6.2" text-anchor="middle" fill="#2c2c2c" stroke="#2c2c2c" stroke-width="0.15">(20'8&quot; x 18'2&quot;)</text>
<text x="276.00" y="224.15" font-size="7.35" text-anchor="middle" fill="#151515" font-weight="bold">Family</text>
<text x="276.00" y="231.15" font-size="7.35" text-anchor="middle" fill="#151515" font-weight="bold">Room</text>
<text x="276.00" y="237.73" font-size="6.2" text-anchor="middle" fill="#2c2c2c" stroke="#2c2c2c" stroke-width="0.15">8.98m x 4.50m</text>
<text x="276.00" y="243.93" font-size="6.2" text-anchor="middle" fill="#2c2c2c" stroke="#2c2c2c" stroke-width="0.15">(29'5&quot; x 14'9&quot;)</text>
<text x="272.30" y="323.75" font-size="7.35" text-anchor="middle" fill="#151515" font-weight="bold">Kitchen/Dining</text>
<text x="272.30" y="330.55" font-size="7.35" text-anchor="middle" fill="#151515" font-weight="bold">Room</text>
<text x="272.30" y="336.93" font-size="6.2" text-anchor="middle" fill="#2c2c2c" stroke="#2c2c2c" stroke-width="0.15">8.98m (29'5&quot;)</text>
<text x="272.30" y="343.03" font-size="6.2" text-anchor="middle" fill="#2c2c2c" stroke="#2c2c2c" stroke-width="0.15">x 6.30m (20'8&quot;) max</text>
<text x="202.50" y="402.65" font-size="7.35" text-anchor="middle" fill="#151515" font-weight="bold">Hall</text>
<text x="517.00" y="348.75" font-size="7.35" text-anchor="middle" fill="#151515" font-weight="bold">Study</text>
<text x="517.00" y="354.73" font-size="6.2" text-anchor="middle" fill="#2c2c2c" stroke="#2c2c2c" stroke-width="0.15">3.13m x 2.82m</text>
<text x="517.00" y="360.93" font-size="6.2" text-anchor="middle" fill="#2c2c2c" stroke="#2c2c2c" stroke-width="0.15">(10'3&quot; x 9'3&quot;)</text>
<text x="514.00" y="415.15" font-size="7.35" text-anchor="middle" fill="#151515" font-weight="bold">Utility</text>
<text x="443.00" y="421.15" font-size="7.35" text-anchor="middle" fill="#151515" font-weight="bold">WC</text>
<text x="486.00" y="518.15" font-size="7.35" text-anchor="middle" fill="#151515" font-weight="bold">Garage</text>
<text x="568.00" y="122.65" font-size="7.35" text-anchor="middle" fill="#151515" font-weight="bold">Bedroom 1</text>
<text x="568.00" y="129.23" font-size="6.2" text-anchor="middle" fill="#2c2c2c" stroke="#2c2c2c" stroke-width="0.15">9.14m (30') max</text>
<text x="568.00" y="135.73" font-size="6.2" text-anchor="middle" fill="#2c2c2c" stroke="#2c2c2c" stroke-width="0.15">x 4.12m (13'6&quot;) max</text>
<text x="521.20" y="202.65" font-size="7.35" text-anchor="middle" fill="#151515" font-weight="bold">En-suite</text>
<text x="521.20" y="209.65" font-size="7.35" text-anchor="middle" fill="#151515" font-weight="bold">Bathroom</text>
<text x="521.20" y="216.33" font-size="6.2" text-anchor="middle" fill="#2c2c2c" stroke="#2c2c2c" stroke-width="0.15">5.54m (18'2&quot;)</text>
<text x="521.20" y="222.73" font-size="6.2" text-anchor="middle" fill="#2c2c2c" stroke="#2c2c2c" stroke-width="0.15">x 2.62m (8'7&quot;) max</text>
<text x="650.20" y="186.45" font-size="7.35" text-anchor="middle" fill="#151515" font-weight="bold">Landing</text>
<text x="769.00" y="134.65" font-size="7.35" text-anchor="middle" fill="#151515" font-weight="bold">Bedroom 2</text>
<text x="769.00" y="141.23" font-size="6.2" text-anchor="middle" fill="#2c2c2c" stroke="#2c2c2c" stroke-width="0.15">4.78m x 4.30m</text>
<text x="769.00" y="147.73" font-size="6.2" text-anchor="middle" fill="#2c2c2c" stroke="#2c2c2c" stroke-width="0.15">(15'8&quot; x 14'1&quot;)</text>
<text x="741.30" y="227.15" font-size="7.35" text-anchor="middle" fill="#151515" font-weight="bold">En-suite</text>
<text x="885.30" y="168.65" font-size="7.35" text-anchor="middle" fill="#151515" font-weight="bold">En-suite</text>
<text x="969.20" y="207.55" font-size="7.35" text-anchor="middle" fill="#151515" font-weight="bold">Bedroom 3</text>
<text x="969.20" y="213.73" font-size="6.2" text-anchor="middle" fill="#2c2c2c" stroke="#2c2c2c" stroke-width="0.15">9.24m (30'4&quot;)</text>
<text x="969.20" y="220.03" font-size="6.2" text-anchor="middle" fill="#2c2c2c" stroke="#2c2c2c" stroke-width="0.15">x 3.67m (12'1&quot;) max</text>
<text x="934.90" y="378.15" font-size="7.35" text-anchor="middle" fill="#151515" font-weight="bold">Storage</text>
<text x="689.80" y="512.25" font-size="6.25" text-anchor="middle" fill="#151515" font-weight="bold">Bedroom 4</text>
<text x="689.80" y="518.21" font-size="5.3" text-anchor="middle" fill="#2c2c2c" stroke="#2c2c2c" stroke-width="0.15">4.25m (13'11&quot;) min</text>
<text x="689.80" y="523.61" font-size="5.3" text-anchor="middle" fill="#2c2c2c" stroke="#2c2c2c" stroke-width="0.15">x 4.01m (13'2&quot;)</text>
<text x="787.60" y="478.75" font-size="6.25" text-anchor="middle" fill="#151515" font-weight="bold">Bathroom</text>
<text x="787.60" y="484.31" font-size="5.3" text-anchor="middle" fill="#2c2c2c" stroke="#2c2c2c" stroke-width="0.15">3.86m (12'8&quot;) max</text>
<text x="787.60" y="490.11" font-size="5.3" text-anchor="middle" fill="#2c2c2c" stroke="#2c2c2c" stroke-width="0.15">x 3.00m (9'10&quot;)</text>
<text x="789.00" y="528.75" font-size="6.25" text-anchor="middle" fill="#151515" font-weight="bold">Landing</text>
<text x="867.00" y="511.75" font-size="6.25" text-anchor="middle" fill="#151515" font-weight="bold">Bedroom 5</text>
<text x="867.00" y="517.71" font-size="5.3" text-anchor="middle" fill="#2c2c2c" stroke="#2c2c2c" stroke-width="0.15">4.25m (13'11&quot;)</text>
<text x="867.00" y="523.21" font-size="5.3" text-anchor="middle" fill="#2c2c2c" stroke="#2c2c2c" stroke-width="0.15">x 3.73m (12'3&quot;) max</text>
<text x="928.80" y="515.55" font-size="6.25" text-anchor="middle" fill="#151515" font-weight="bold">Storage</text>
<text x="389.00" y="672.24" font-size="10.94" text-anchor="start" fill="#1a1a1a" font-weight="bold">Approx gross internal floor area 374 sqm (4015 sqft) excluding Garage</text>
<g transform="translate(193.9,149.2) rotate(12.5)"><path d="M0,-16.9 L-1.8,-6.2 L1.8,-6.2 Z M0,16.9 L-1.8,6.2 L1.8,6.2 Z M-16.9,0 L-6.2,-1.8 L-6.2,1.8 Z M16.9,0 L6.2,-1.8 L6.2,1.8 Z" fill="#fff" stroke="#b5b5b5" stroke-width="0.4"/><path d="M0.1,-17.1 L-0.3,-6 L2.4,-6 Z M-0.1,17.1 L0.3,6 L-2.4,6 Z M-17.1,0.1 L-6,-0.3 L-6,2.4 Z M17.1,-0.1 L6,0.3 L6,-2.4 Z" fill="#0c0c0c"/><circle r="6.6" fill="#fff" stroke="#161616" stroke-width="1"/><text x="0" y="-18.6" font-size="5.6" font-weight="bold" font-style="italic" text-anchor="middle" fill="#111">N</text></g>
</svg></body></html>
